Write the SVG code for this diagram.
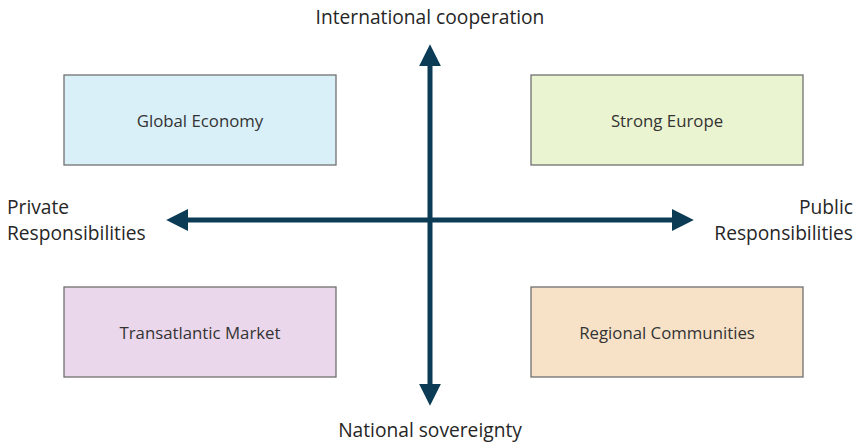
<svg xmlns="http://www.w3.org/2000/svg" width="854" height="445" viewBox="0 0 854 445">
<style>
.box{stroke:#707070;stroke-width:1.3}
.bt{font-family:"Open Sans","Noto Sans",sans-serif;font-size:16.8px;fill:#333;text-anchor:middle;dominant-baseline:central}
.lab{font-family:"Open Sans","Noto Sans",sans-serif;font-size:19.2px;fill:#262626}
.ax{stroke:#0c3c55;stroke-width:5;fill:none}
</style>
<defs>
<marker id="ah" viewBox="0 0 10 10" refX="1" refY="5" markerWidth="4.4" markerHeight="4.4" orient="auto" markerUnits="strokeWidth">
<path d="M0,0 L10,5 L0,10 Z" fill="#0c3c55"/>
</marker>
</defs>
<rect width="854" height="445" fill="#fff"/>
<g id="global-economy"><rect class="box" x="64" y="75" width="272" height="90" fill="#daf0f8"/><text class="bt" x="200" y="120">Global Economy</text></g>
<g id="strong-europe"><rect class="box" x="531" y="75" width="272" height="90" fill="#ebf4d1"/><text class="bt" x="667" y="120">Strong Europe</text></g>
<g id="transatlantic-market"><rect class="box" x="64" y="287" width="272" height="90" fill="#ebd7eb"/><text class="bt" x="200" y="332">Transatlantic Market</text></g>
<g id="regional-communities"><rect class="box" x="531" y="287" width="272" height="90" fill="#f7e2c8"/><text class="bt" x="667" y="332">Regional Communities</text></g>
<g id="connectors">
<line class="ax" x1="430" y1="220" x2="430" y2="64" marker-end="url(#ah)"/>
<line class="ax" x1="430" y1="220" x2="430" y2="386" marker-end="url(#ah)"/>
<line class="ax" x1="430" y1="220" x2="186" y2="220" marker-end="url(#ah)"/>
<line class="ax" x1="430" y1="220" x2="674" y2="220" marker-end="url(#ah)"/>
</g>
<g id="labels">
<text class="lab" x="430" y="24" text-anchor="middle">International cooperation</text>
<text class="lab" x="430" y="437" text-anchor="middle">National sovereignty</text>
<text class="lab" x="7" y="214">Private</text>
<text class="lab" x="7" y="240">Responsibilities</text>
<text class="lab" x="853" y="214" text-anchor="end">Public</text>
<text class="lab" x="853" y="240" text-anchor="end">Responsibilities</text>
</g>
</svg>
